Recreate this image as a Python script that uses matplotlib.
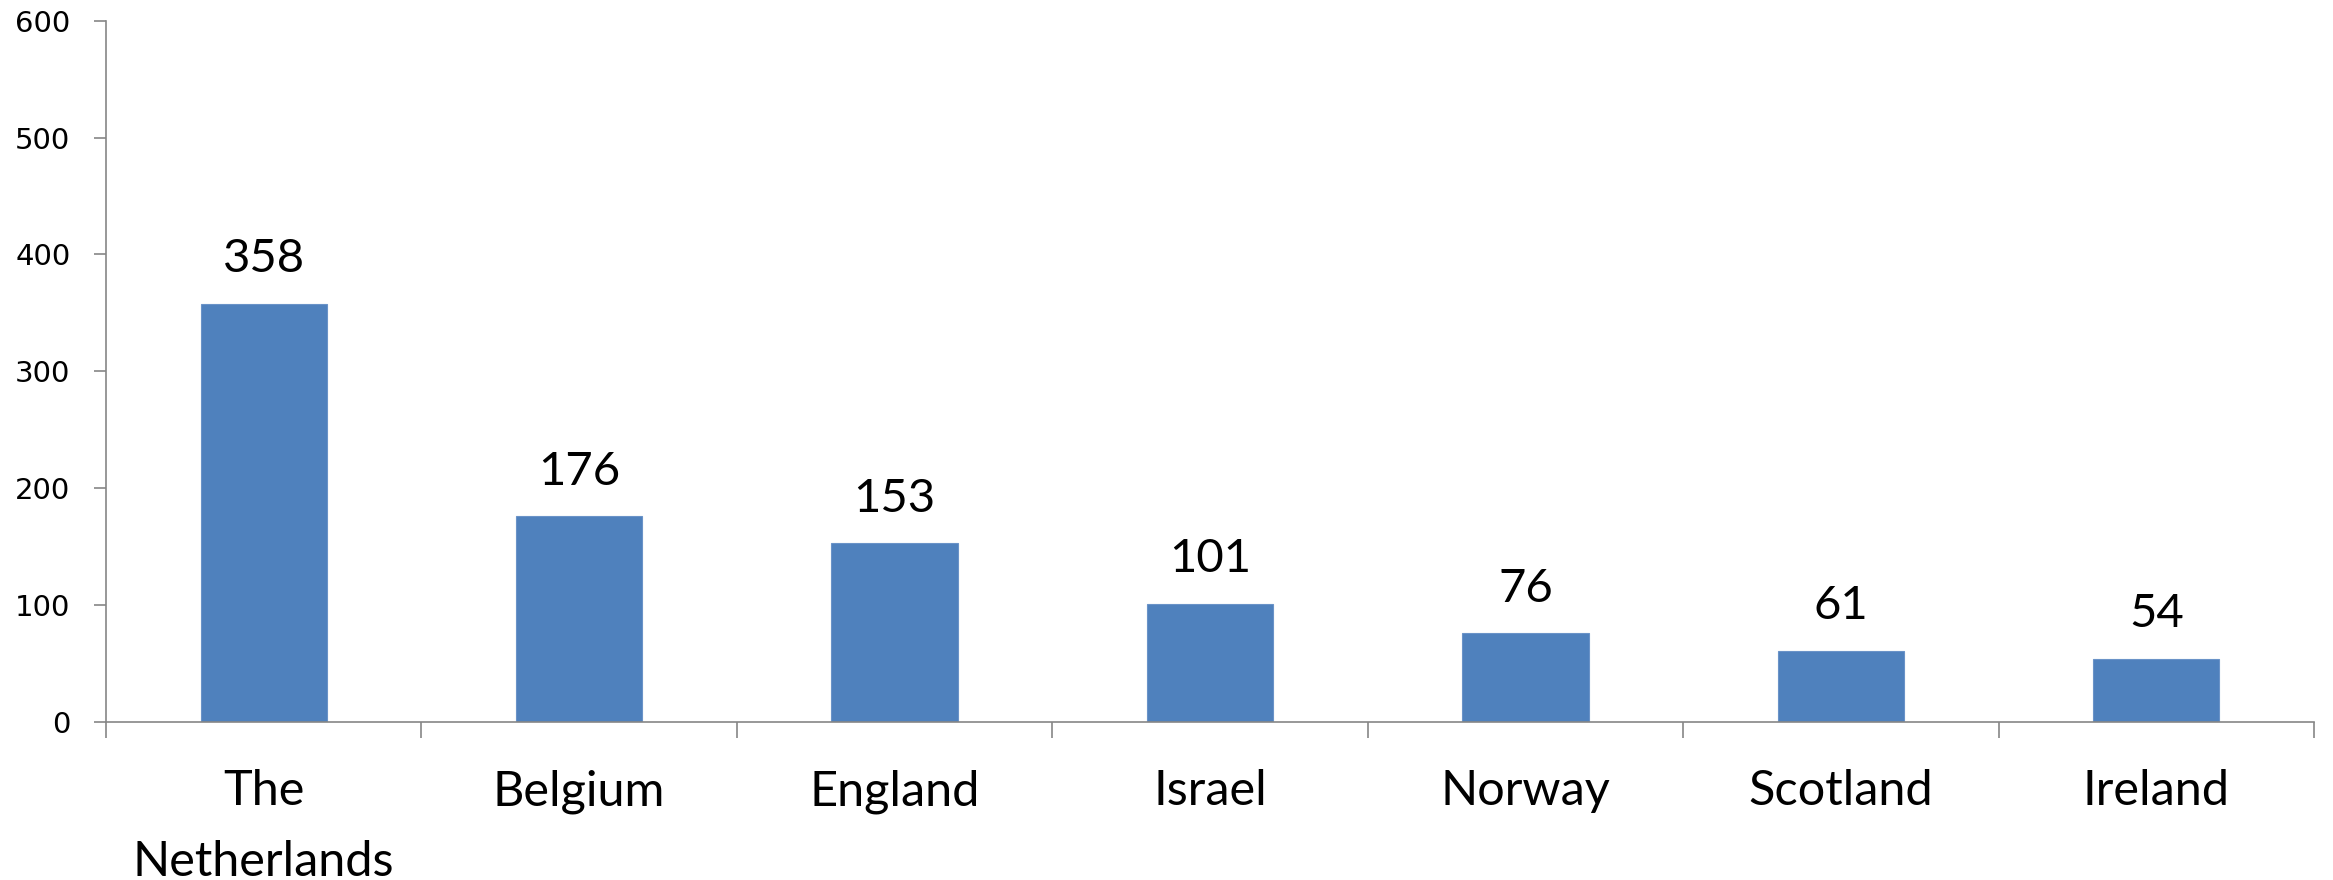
import matplotlib.pyplot as plt
import numpy as np

# data
countries = ['The\nNetherlands', 'Belgium', 'England', 'Israel', 'Norway', 'Scotland', 'Ireland']
counts = [358, 176, 153, 101, 76, 61, 54]
yticks = [0, 100, 200, 300, 400, 500, 600]

bar_color = '#4F81BD'
axis_color = '#868686'

fig = plt.figure(figsize=(23.33, 8.8), dpi=100)
ax = fig.add_axes([0.0454, 0.1795, 0.9465, 0.797])

x = np.arange(len(countries))
bars = ax.bar(x, counts, width=0.4, color=bar_color, edgecolor='#6A93C8', linewidth=0.8, zorder=2)
ax.bar_label(bars, labels=[str(c) for c in counts], padding=17,
             fontsize=34, family='Lato', color='black')

ax.set_xlim(-0.5, len(countries) - 0.5)
ax.set_ylim(0, 600)
ax.set_yticks(yticks)
ax.set_yticklabels([str(t) for t in yticks], fontsize=21, family='DejaVu Sans')

# category boundaries as major ticks, labels on minor ticks
ax.set_xticks(np.arange(-0.5, len(countries), 1.0))
ax.set_xticklabels([])
ax.set_xticks(x, minor=True)
ax.set_xticklabels(countries, minor=True, fontsize=35, family='Lato', linespacing=1.75)

ax.tick_params(axis='x', which='major', length=11.5, width=1.2, color=axis_color, direction='out')
ax.tick_params(axis='x', which='minor', length=0, pad=34)
ax.tick_params(axis='y', length=8.6, width=1.2, color=axis_color, direction='out', pad=17)

for s in ['top', 'right']:
    ax.spines[s].set_visible(False)
for s in ['left', 'bottom']:
    ax.spines[s].set_color(axis_color)
    ax.spines[s].set_linewidth(1.2)

fig.savefig('out.png', dpi=100)
